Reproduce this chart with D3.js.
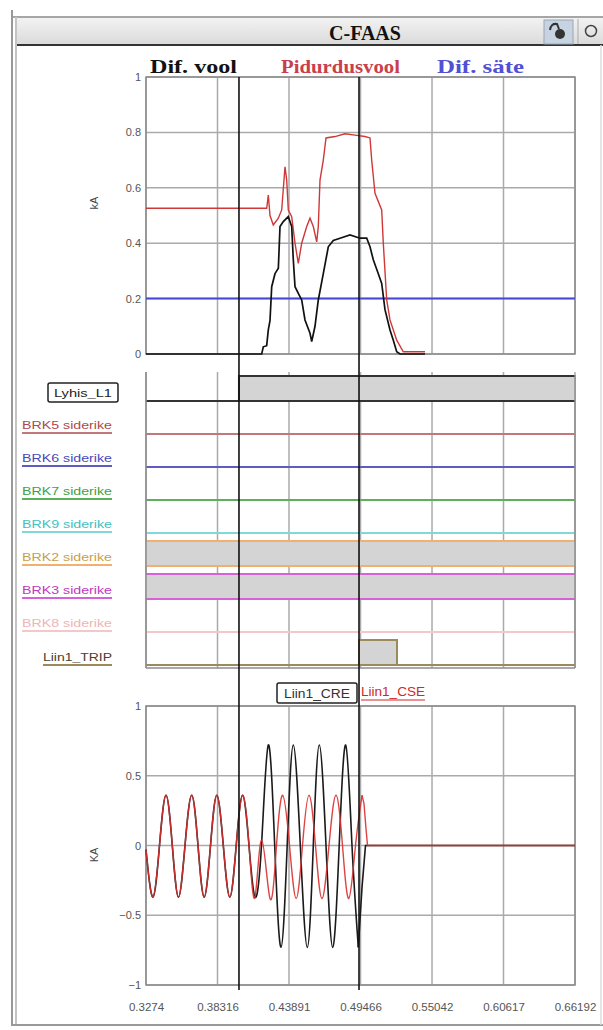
<!DOCTYPE html>
<html><head><meta charset="utf-8">
<script src="https://cdn.jsdelivr.net/npm/d3@7"></script>
<style>
html,body{margin:0;padding:0;background:#fff;}
svg{display:block;}
text{font-family:Arial,"Liberation Sans",sans-serif;}
</style></head><body>
<svg id="c" width="603" height="1030"></svg>
<script>
// ---------- DATA ----------
const xTicks = [0.3274, 0.38316, 0.43891, 0.49466, 0.55042, 0.60617, 0.66192];
const xTickLabels = ["0.3274", "0.38316", "0.43891", "0.49466", "0.55042", "0.60617", "0.66192"];
const cursorTimes = [0.3999, 0.4935];

const topYTicks = [0, 0.2, 0.4, 0.6, 0.8, 1];
const topLegend = ["Dif. vool", "Pidurdusvool", "Dif. säte"];

// Dif. vool (kA)
const difVoolT = [0.3274, 0.41762, 0.41887, 0.42150, 0.42277, 0.42409, 0.42542, 0.42799, 0.42932, 0.43060, 0.43189, 0.43446, 0.43836, 0.44101, 0.44226, 0.44359, 0.44616, 0.44881, 0.45138, 0.45528, 0.45661, 0.45918, 0.46175, 0.46565, 0.46955, 0.47345, 0.47868, 0.48647, 0.49427, 0.4995, 0.50207, 0.50464, 0.50854, 0.51119, 0.51376, 0.51766, 0.52024, 0.52289, 0.52546, 0.54496];
const difVoolV = [0, 0, 0.026, 0.03, 0.087, 0.12, 0.243, 0.29, 0.30, 0.31, 0.46, 0.478, 0.496, 0.46, 0.34, 0.243, 0.219, 0.195, 0.123, 0.075, 0.045, 0.10, 0.195, 0.29, 0.387, 0.41, 0.418, 0.43, 0.418, 0.418, 0.387, 0.34, 0.29, 0.255, 0.16, 0.087, 0.05, 0.008, 0, 0];
// Pidurdusvool (kA)
const pidurT = [0.3274, 0.42152, 0.42277, 0.42409, 0.42666, 0.43056, 0.43321, 0.43579, 0.43711, 0.43836, 0.44101, 0.44359, 0.44616, 0.44881, 0.45271, 0.45528, 0.45785, 0.46051, 0.46175, 0.46308, 0.46565, 0.46776, 0.47478, 0.48257, 0.49037, 0.49817, 0.50207, 0.50339, 0.50597, 0.51119, 0.51244, 0.51509, 0.51766, 0.52289, 0.52804, 0.54496];
const pidurV = [0.526, 0.526, 0.574, 0.50, 0.466, 0.49, 0.52, 0.676, 0.628, 0.52, 0.496, 0.40, 0.327, 0.40, 0.46, 0.49, 0.46, 0.405, 0.46, 0.628, 0.70, 0.78, 0.785, 0.795, 0.79, 0.785, 0.78, 0.70, 0.58, 0.52, 0.40, 0.195, 0.123, 0.05, 0.008, 0.008];
// Dif. säte (kA)
const difSateT = [0.3274, 0.66192];
const difSateV = [0.2, 0.2];

// Digital channels
const digitalNames = ["Lyhis_L1", "BRK5 siderike", "BRK6 siderike", "BRK7 siderike", "BRK9 siderike", "BRK2 siderike", "BRK3 siderike", "BRK8 siderike", "Liin1_TRIP"];
const digitalT = [
  [0.3274, 0.3999],
  [0.3274],
  [0.3274],
  [0.3274],
  [0.3274],
  [0.3274],
  [0.3274],
  [0.3274],
  [0.3274, 0.49349, 0.52312]
];
const digitalS = [
  [0, 1],
  [0],
  [0],
  [0],
  [0],
  [1],
  [1],
  [0],
  [0, 1, 0]
];

// Bottom chart (kA)
const botYTicks = [-1, -0.5, 0, 0.5, 1];
const botLegend = ["Liin1_CRE", "Liin1_CSE"];
const cseT = [0.3274, 0.33286, 0.33793, 0.34300, 0.34791, 0.35274, 0.35781, 0.36304, 0.36795, 0.37278, 0.37770, 0.38261, 0.38768, 0.39275, 0.39774, 0.40273, 0.40772, 0.41240, 0.41762, 0.42409, 0.42916, 0.43399, 0.43930, 0.44452, 0.44943, 0.45450, 0.45957, 0.46464, 0.47010, 0.47556, 0.48062, 0.48554, 0.49076, 0.49583, 0.49739, 0.49895, 0.50012, 0.66192];
const cseV = [-0.03, -0.37, 0, 0.36, 0, -0.37, 0, 0.36, 0, -0.37, 0, 0.36, 0, -0.37, 0, 0.36, 0, -0.37, 0.04, -0.38, 0, 0.36, 0, -0.38, 0, 0.36, 0, -0.38, 0, 0.36, 0, -0.38, 0, 0.36, 0.3, 0.12, 0, 0];
const creT = [0.3274, 0.33286, 0.33793, 0.34300, 0.34791, 0.35274, 0.35781, 0.36304, 0.36795, 0.37278, 0.37770, 0.38261, 0.38768, 0.39275, 0.39774, 0.40273, 0.40772, 0.41240, 0.41746, 0.42277, 0.42776, 0.43267, 0.43750, 0.44226, 0.44772, 0.45318, 0.45785, 0.46253, 0.46776, 0.47298, 0.47805, 0.48312, 0.48803, 0.49295, 0.49583, 0.49856, 0.66192];
const creV = [-0.03, -0.37, 0, 0.36, 0, -0.37, 0, 0.36, 0, -0.37, 0, 0.36, 0, -0.37, 0, 0.36, 0, -0.37, 0, 0.72, 0, -0.73, 0, 0.72, 0, -0.73, 0, 0.72, 0, -0.73, 0, 0.72, 0, -0.73, -0.3, 0, 0];
// index where the oscillation ends and the de-energised tail starts
const cseOscEnd = 33, creOscEnd = 33;

// ---------- STYLE / LAYOUT ----------
const X0 = 146, X1 = 575;
const gridCol = "#aaaaaa", frameCol = "#8c8c8c";
const digitalLine = ["#333333", "#c07878", "#5c5cc4", "#5cb05c", "#80d8d8", "#f0b070", "#d860d8", "#f2c8c8", "#9b8a5a"];
const digitalText = ["#222222", "#b04848", "#4848b8", "#44a044", "#44c0c0", "#c8a048", "#c038c0", "#f0b4b4", "#4a4030"];

const svg = d3.select("#c");
const x = d3.scaleLinear().domain([xTicks[0], xTicks[xTicks.length - 1]]).range([X0, X1]);

// ---------- WINDOW FRAME ----------
const grad = svg.append("defs").append("linearGradient").attr("id", "tb").attr("x1", 0).attr("x2", 0).attr("y1", 0).attr("y2", 1);
grad.append("stop").attr("offset", "0%").attr("stop-color", "#f2f2f2");
grad.append("stop").attr("offset", "100%").attr("stop-color", "#dadada");
svg.append("rect").attr("x", 17).attr("y", 18).attr("width", 586).attr("height", 27).attr("fill", "url(#tb)");
svg.append("line").attr("x1", 12).attr("x2", 603).attr("y1", 17).attr("y2", 17).attr("stroke", "#888").attr("stroke-width", 1.5);
svg.append("line").attr("x1", 17).attr("x2", 603).attr("y1", 45).attr("y2", 45).attr("stroke", "#333").attr("stroke-width", 2);
svg.append("line").attr("x1", 12).attr("x2", 12).attr("y1", 10).attr("y2", 1026).attr("stroke", "#999").attr("stroke-width", 2);
svg.append("line").attr("x1", 16).attr("x2", 16).attr("y1", 17).attr("y2", 1026).attr("stroke", "#c4c4c4").attr("stroke-width", 2);
svg.append("line").attr("x1", 12).attr("x2", 603).attr("y1", 1025).attr("y2", 1025).attr("stroke", "#999").attr("stroke-width", 2);
svg.append("line").attr("x1", 601).attr("x2", 601).attr("y1", 45).attr("y2", 1025).attr("stroke", "#dddddd").attr("stroke-width", 1.5);
svg.append("text").attr("x", 365).attr("y", 40).attr("text-anchor", "middle")
  .style("font-family", "'Liberation Serif','DejaVu Serif',serif").style("font-weight", "bold").style("font-size", "20px").attr("fill", "#111").text("C-FAAS");
// icons
svg.append("rect").attr("x", 544).attr("y", 20).attr("width", 29).attr("height", 24).attr("fill", "#c7d3e0").attr("stroke", "#9aa6b4");
svg.append("circle").attr("cx", 560).attr("cy", 34).attr("r", 5).attr("fill", "#333");
svg.append("path").attr("d", "M550,30 q1,-7 7,-6 l2,5").attr("fill", "none").attr("stroke", "#333").attr("stroke-width", 2);
svg.append("line").attr("x1", 578).attr("x2", 578).attr("y1", 19).attr("y2", 44).attr("stroke", "#aaa");
svg.append("circle").attr("cx", 591).attr("cy", 31).attr("r", 5.5).attr("fill", "none").attr("stroke", "#444").attr("stroke-width", 1.5);

// ---------- TOP CHART ----------
const yTop = d3.scaleLinear().domain([0, 1]).range([354, 77]);
const gTop = svg.append("g");
gTop.append("g").selectAll("line").data(topYTicks).join("line")
  .attr("x1", X0).attr("x2", X1).attr("y1", d => yTop(d)).attr("y2", d => yTop(d)).attr("stroke", gridCol).attr("stroke-width", 1.5);
gTop.append("g").selectAll("line").data(xTicks).join("line")
  .attr("x1", d => x(d)).attr("x2", d => x(d)).attr("y1", yTop(1)).attr("y2", yTop(0)).attr("stroke", gridCol).attr("stroke-width", 1.5);
gTop.append("rect").attr("x", X0).attr("y", yTop(1)).attr("width", X1 - X0).attr("height", yTop(0) - yTop(1)).attr("fill", "none").attr("stroke", frameCol).attr("stroke-width", 1.5);
const axTop = d3.axisLeft(yTop).tickValues(topYTicks).tickSize(0).tickPadding(5).tickFormat(d3.format("~g"));
gTop.append("g").attr("transform", `translate(${X0},0)`).call(axTop)
  .call(g => g.select(".domain").remove())
  .call(g => g.selectAll("text").attr("fill", "#555").style("font-size", "11px"));
gTop.append("text").attr("transform", "translate(98,203) rotate(-90)").attr("text-anchor", "middle").attr("fill", "#444").style("font-size", "11px").text("kA");

const lineTop = d3.line().x(d => x(d[0])).y(d => yTop(d[1]));
gTop.append("path").datum(difSateT.map((t, i) => [t, difSateV[i]])).attr("d", lineTop).attr("fill", "none").attr("stroke", "#4848d8").attr("stroke-width", 2);
gTop.append("path").datum(pidurT.map((t, i) => [t, pidurV[i]])).attr("d", lineTop).attr("fill", "none").attr("stroke", "#d03838").attr("stroke-width", 1.4);
gTop.append("path").datum(difVoolT.map((t, i) => [t, difVoolV[i]])).attr("d", lineTop).attr("fill", "none").attr("stroke", "#111").attr("stroke-width", 1.7);

// legend
const legCols = ["#111111", "#c8404c", "#5050d4"];
const legX = [150, 281, 437], legW = [87, 119, 87];
topLegend.forEach((s, i) => {
  svg.append("text").attr("x", legX[i]).attr("y", 73).attr("textLength", legW[i]).attr("lengthAdjust", "spacingAndGlyphs")
    .style("font-family", "'Liberation Serif','DejaVu Serif',serif").style("font-weight", "bold").style("font-size", "19px")
    .attr("fill", legCols[i]).text(s);
});

// ---------- DIGITAL PANEL ----------
const rowY = d3.scaleLinear().domain([0, digitalNames.length - 1]).range([401, 665]);
const hiH = 25;
const gDig = svg.append("g");
gDig.append("g").selectAll("line").data(xTicks).join("line")
  .attr("x1", d => x(d)).attr("x2", d => x(d)).attr("y1", 372).attr("y2", 668).attr("stroke", gridCol).attr("stroke-width", 1.5);
gDig.append("line").attr("x1", X0).attr("x2", X1).attr("y1", 668).attr("y2", 668).attr("stroke", frameCol).attr("stroke-width", 1.5);

digitalNames.forEach((name, i) => {
  const base = rowY(i);
  const ts = digitalT[i], ss = digitalS[i];
  const pts = ts.map((t, k) => [t, ss[k]]);
  pts.push([xTicks[xTicks.length - 1], ss[ss.length - 1]]);
  for (let k = 0; k < ts.length; k++) {
    if (ss[k] === 1) {
      const t1 = k + 1 < ts.length ? ts[k + 1] : xTicks[xTicks.length - 1];
      gDig.append("rect").attr("x", x(ts[k])).attr("y", base - hiH).attr("width", x(t1) - x(ts[k])).attr("height", hiH).attr("fill", "#d4d4d4");
    }
  }
  const sl = d3.line().x(d => x(d[0])).y(d => base - d[1] * hiH).curve(d3.curveStepAfter);
  gDig.append("line").attr("x1", X0).attr("x2", X1).attr("y1", base).attr("y2", base).attr("stroke", digitalLine[i]).attr("stroke-width", 2);
  gDig.append("path").datum(pts).attr("d", sl).attr("fill", "none").attr("stroke", digitalLine[i]).attr("stroke-width", 2);
});
gDig.append("line").attr("x1", X0).attr("x2", X0).attr("y1", 372).attr("y2", 668).attr("stroke", frameCol).attr("stroke-width", 1.5);
gDig.append("line").attr("x1", X1).attr("x2", X1).attr("y1", 375).attr("y2", 668).attr("stroke", frameCol).attr("stroke-width", 1.5);

// labels
digitalNames.forEach((name, i) => {
  const base = rowY(i);
  if (i === 0) {
    gDig.append("rect").attr("x", 48).attr("y", base - 18).attr("width", 70).attr("height", 19).attr("rx", 2).attr("fill", "#fff").attr("stroke", "#222").attr("stroke-width", 1.5);
    gDig.append("text").attr("x", 83).attr("y", base - 4.5).attr("text-anchor", "middle").attr("textLength", 58).attr("lengthAdjust", "spacingAndGlyphs").style("font-size", "11px").attr("fill", "#222").text(name);
  } else if (i === digitalNames.length - 1) {
    gDig.append("text").attr("x", 43).attr("y", base - 4).attr("textLength", 69).attr("lengthAdjust", "spacingAndGlyphs").style("font-size", "11px").attr("fill", digitalText[i]).text(name);
    gDig.append("line").attr("x1", 43).attr("x2", 112).attr("y1", base).attr("y2", base).attr("stroke", digitalLine[i]).attr("stroke-width", 2);
  } else {
    gDig.append("text").attr("x", 22).attr("y", base - 5).attr("textLength", 90).attr("lengthAdjust", "spacingAndGlyphs").style("font-size", "11px").attr("fill", digitalText[i]).text(name);
    gDig.append("line").attr("x1", 22).attr("x2", 112).attr("y1", base - 1).attr("y2", base - 1).attr("stroke", digitalLine[i]).attr("stroke-width", 2);
  }
});

// ---------- BOTTOM CHART ----------
const yBot = d3.scaleLinear().domain([-1, 1]).range([985, 706]);
const gBot = svg.append("g");
gBot.append("g").selectAll("line").data(botYTicks).join("line")
  .attr("x1", X0).attr("x2", X1).attr("y1", d => yBot(d)).attr("y2", d => yBot(d)).attr("stroke", gridCol).attr("stroke-width", 1.5);
gBot.append("g").selectAll("line").data(xTicks).join("line")
  .attr("x1", d => x(d)).attr("x2", d => x(d)).attr("y1", yBot(1)).attr("y2", yBot(-1)).attr("stroke", gridCol).attr("stroke-width", 1.5);
gBot.append("rect").attr("x", X0).attr("y", yBot(1)).attr("width", X1 - X0).attr("height", yBot(-1) - yBot(1)).attr("fill", "none").attr("stroke", frameCol).attr("stroke-width", 1.5);
const axBotY = d3.axisLeft(yBot).tickValues(botYTicks).tickSize(0).tickPadding(5).tickFormat(d3.format("~g"));
gBot.append("g").attr("transform", `translate(${X0},0)`).call(axBotY)
  .call(g => g.select(".domain").remove())
  .call(g => g.selectAll("text").attr("fill", "#555").style("font-size", "11px"));
gBot.append("text").attr("transform", "translate(98,855) rotate(-90)").attr("text-anchor", "middle").attr("fill", "#444").style("font-size", "11px").text("KA");
const axBotX = d3.axisBottom(x).tickValues(xTicks).tickSize(0).tickPadding(18).tickFormat((d, i) => xTickLabels[i]);
gBot.append("g").attr("transform", `translate(0,${yBot(-1)})`).call(axBotX)
  .call(g => g.select(".domain").remove())
  .call(g => g.selectAll("text").attr("fill", "#555").style("font-size", "11.5px"));

const lineOsc = d3.line().x(d => x(d[0])).y(d => yBot(d[1])).curve(d3.curveNatural);
const lineTail = d3.line().x(d => x(d[0])).y(d => yBot(d[1]));
const crePts = creT.map((t, i) => [t, creV[i]]);
const csePts = cseT.map((t, i) => [t, cseV[i]]);
[[crePts, creOscEnd, "#1a1a1a", 1.6, 1], [csePts, cseOscEnd, "#d83030", 1.4, 0.9]].forEach(([pts, e, col, w, op]) => {
  gBot.append("path").datum(pts.slice(0, e + 1)).attr("d", lineOsc).attr("fill", "none").attr("stroke", col).attr("stroke-width", w).attr("stroke-opacity", op);
  gBot.append("path").datum(pts.slice(e)).attr("d", lineTail).attr("fill", "none").attr("stroke", col).attr("stroke-width", w).attr("stroke-opacity", op);
});

// legend
svg.append("rect").attr("x", 277).attr("y", 683).attr("width", 80).attr("height", 20).attr("rx", 2).attr("fill", "#fff").attr("stroke", "#222").attr("stroke-width", 1.5);
svg.append("text").attr("x", 317).attr("y", 697.5).attr("text-anchor", "middle").attr("textLength", 66).attr("lengthAdjust", "spacingAndGlyphs").style("font-size", "12px").attr("fill", "#333").text(botLegend[0]);
svg.append("text").attr("x", 361).attr("y", 696).attr("textLength", 64).attr("lengthAdjust", "spacingAndGlyphs").style("font-size", "12px").attr("fill", "#d02828").text(botLegend[1]);
svg.append("line").attr("x1", 361).attr("x2", 425).attr("y1", 700).attr("y2", 700).attr("stroke", "#e07070").attr("stroke-width", 1.5);

// ---------- CURSORS ----------
svg.append("g").selectAll("line").data(cursorTimes).join("line")
  .attr("x1", d => x(d)).attr("x2", d => x(d)).attr("y1", 77).attr("y2", 990).attr("stroke", "#111").attr("stroke-width", 1.6);
</script>
</body></html>
